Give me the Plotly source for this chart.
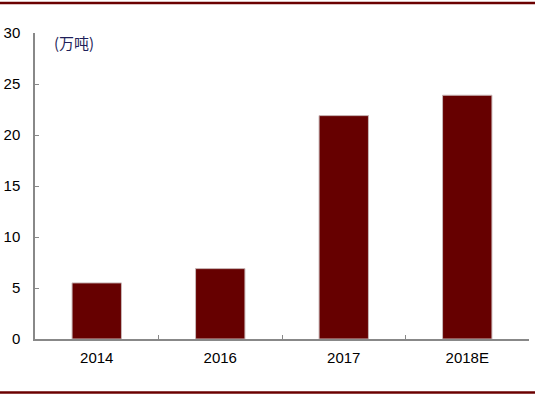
import plotly.graph_objects as go

categories = ["2014", "2016", "2017", "2018E"]
values = [5.5, 6.9, 21.9, 23.9]
y_ticks = [0, 5, 10, 15, 20, 25, 30]
unit_label = "(万吨)"

fig = go.Figure()
fig.add_trace(go.Bar(
    x=categories, y=values,
    marker=dict(color="#660000", line=dict(color="#c9b8b8", width=1)),
    width=0.4,
))

L, R, T, B = 35, 6, 33, 56
W, H = 535, 395
pw, ph = W - L - R, H - T - B

def px_x(x):
    return (x - L) / pw

def px_y(y):
    return (H - B - y) / ph

fig.update_layout(
    width=W, height=H,
    margin=dict(l=L, r=R, t=T, b=B, pad=0),
    paper_bgcolor="white", plot_bgcolor="white",
    showlegend=False,
    font=dict(family="Liberation Sans, Arial", size=15, color="black"),
    xaxis=dict(
        showline=True, linecolor="#888888", linewidth=1.5,
        ticks="inside", tickson="boundaries", ticklen=4, tickcolor="#888888",
        showgrid=False, tickfont=dict(size=15), mirror=False,
        ticklabelstandoff=4, automargin=False,
    ),
    yaxis=dict(
        range=[0, 30], tickvals=y_ticks,
        showline=True, linecolor="#888888", linewidth=1.5,
        ticks="inside", ticklen=4, tickcolor="#888888",
        showgrid=False, zeroline=False, tickfont=dict(size=15),
        ticklabelstandoff=10, automargin=False,
    ),
    shapes=[
        dict(type="line", xref="paper", yref="paper",
             x0=px_x(0), x1=px_x(W), y0=px_y(3), y1=px_y(3),
             line=dict(color="#6b0000", width=2.5)),
        dict(type="line", xref="paper", yref="paper",
             x0=px_x(0), x1=px_x(W), y0=px_y(392.5), y1=px_y(392.5),
             line=dict(color="#6b0000", width=2.5)),
    ],
    annotations=[
        dict(text=unit_label, xref="paper", yref="paper",
             x=px_x(52), y=px_y(42.5), xanchor="left", yanchor="middle",
             showarrow=False,
             font=dict(family="Noto Sans CJK SC", size=15, color="#1f1f5a")),
    ],
)

fig.write_html("out.html",
               config={"displayModeBar": False},
               post_script="document.body.style.margin='0';document.body.style.overflow='hidden';")
